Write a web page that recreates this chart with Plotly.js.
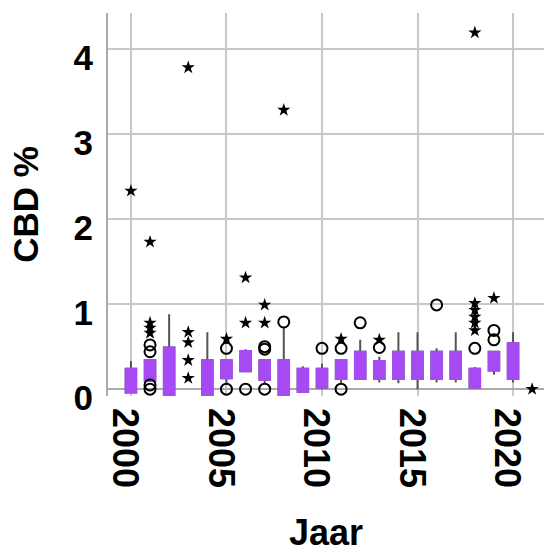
<!DOCTYPE html>
<html>
<head>
<meta charset="utf-8">
<script src="https://cdn.plot.ly/plotly-3.0.1.min.js"></script>
<style>html,body{margin:0;padding:0;background:#fff;}#chart{width:544px;height:553px;}</style>
</head>
<body>
<div id="chart"></div>
<script>
// Years with a box
const boxYears = [2000,2001,2002,2004,2005,2006,2007,2008,2009,2010,2011,2012,2013,2014,2015,2016,2017,2018,2019,2020];
const q1Vals    = [-0.04,0.10,-0.09,-0.09,0.13,0.21,0.11,-0.09,-0.03,0.02,0.12,0.12,0.12,0.12,0.12,0.12,0.12,0.02,0.22,0.12];
const q3Vals    = [0.24,0.34,0.49,0.34,0.34,0.45,0.34,0.34,0.24,0.24,0.34,0.44,0.33,0.44,0.44,0.44,0.44,0.24,0.44,0.54];
const lowWhisk  = [-0.04,0.10,-0.09,-0.09,0.07,0.20,0.07,-0.09,-0.03,0.00,0.07,0.12,0.08,0.07,0.00,0.08,0.08,0.02,0.17,0.08];
const highWhisk = [0.33,0.34,0.88,0.67,0.34,0.47,0.34,0.72,0.27,0.30,0.34,0.58,0.38,0.67,0.67,0.48,0.67,0.26,0.44,0.67];

// Outliers (circles)
const outX = [2001,2001,2001,2001,2005,2005,2006,2007,2007,2007,2008,2010,2011,2011,2012,2013,2016,2018,2019,2019];
const outY = [0.44,0.52,0.00,0.05,0.48,0.00,0.00,0.47,0.50,0.00,0.79,0.48,0.48,0.00,0.78,0.49,0.99,0.48,0.58,0.69];

// Extremes (stars)
const extX = [2000,2001,2001,2001,2001,2003,2003,2003,2003,2003,2005,2006,2006,2007,2007,2008,2011,2013,2018,2018,2018,2018,2018,2018,2019,2021];
const extY = [2.33,1.73,0.78,0.72,0.66,3.78,0.67,0.55,0.34,0.13,0.59,1.31,0.78,0.99,0.78,3.28,0.59,0.58,4.19,1.01,0.93,0.85,0.78,0.69,1.07,0.00];

const tickYears = [2000,2005,2010,2015,2020];
const tickLabels = ['2000','2005','2010','2015','2020'];
const yTicks = [0,1,2,3,4];
const yLabels = ['0','1','2','3','4'];

const purple = '#a64bf4';
const whiskerColor = '#555555';
const FONT = 'Liberation Sans, Arial, sans-serif';

const traces = [
  {
    type:'box', x:boxYears, q1:q1Vals, median:q1Vals, q3:q3Vals,
    lowerfence:lowWhisk, upperfence:highWhisk,
    width:0.55, whiskerwidth:0, fillcolor:purple,
    line:{color:whiskerColor, width:2}, boxpoints:false, hoverinfo:'skip', showlegend:false
  },
  {
    type:'box', x:boxYears, q1:q1Vals, median:q1Vals, q3:q3Vals,
    lowerfence:q1Vals, upperfence:q3Vals,
    width:0.55, whiskerwidth:0, fillcolor:purple,
    line:{color:purple, width:2}, boxpoints:false, hoverinfo:'skip', showlegend:false
  },
  {
    type:'scatter', mode:'markers', x:outX, y:outY,
    marker:{symbol:'circle-open', size:11, color:'#000', line:{width:2, color:'#000'}},
    hoverinfo:'skip', showlegend:false
  },
  {
    type:'scatter', mode:'markers', x:extX, y:extY,
    marker:{symbol:'star', size:10, color:'#000', line:{width:0}},
    hoverinfo:'skip', showlegend:false
  }
];

const layout = {
  width:544, height:553,
  margin:{l:108, r:0, t:13, b:157, pad:0},
  paper_bgcolor:'#fff', plot_bgcolor:'#fff',
  showlegend:false, boxmode:'overlay',
  font:{family:FONT, color:'#000'},
  xaxis:{
    range:[1998.8, 2021.62], tickmode:'array', tickvals:tickYears, ticktext:tickLabels,
    tickangle:90, ticks:'', showgrid:true, gridcolor:'#c8c8c8', gridwidth:2,
    zeroline:false, showline:false,
    tickfont:{family:FONT, size:36, weight:'bold', color:'#000'},
    ticklabelstandoff:11, ticklabelshift:-6,
    title:{text:'Jaar', font:{family:FONT, size:36, weight:'bold', color:'#000'}, standoff:53}
  },
  yaxis:{
    range:[-0.08, 4.42], tickmode:'array', tickvals:yTicks, ticktext:yLabels,
    ticks:'', showgrid:true, gridcolor:'#c8c8c8', gridwidth:2,
    zeroline:true, zerolinecolor:'#aaaaaa', zerolinewidth:2,
    showline:true, linecolor:'#aaaaaa', linewidth:2,
    tickfont:{family:FONT, size:35, weight:'bold', color:'#000'},
    ticklabelshift:9, ticklabelstandoff:6,
    title:{text:'CBD %', font:{family:FONT, size:35, weight:'bold', color:'#000'}, standoff:24}
  }
};

Plotly.newPlot('chart', traces, layout, {staticPlot:true, displayModeBar:false});
</script>
</body>
</html>
